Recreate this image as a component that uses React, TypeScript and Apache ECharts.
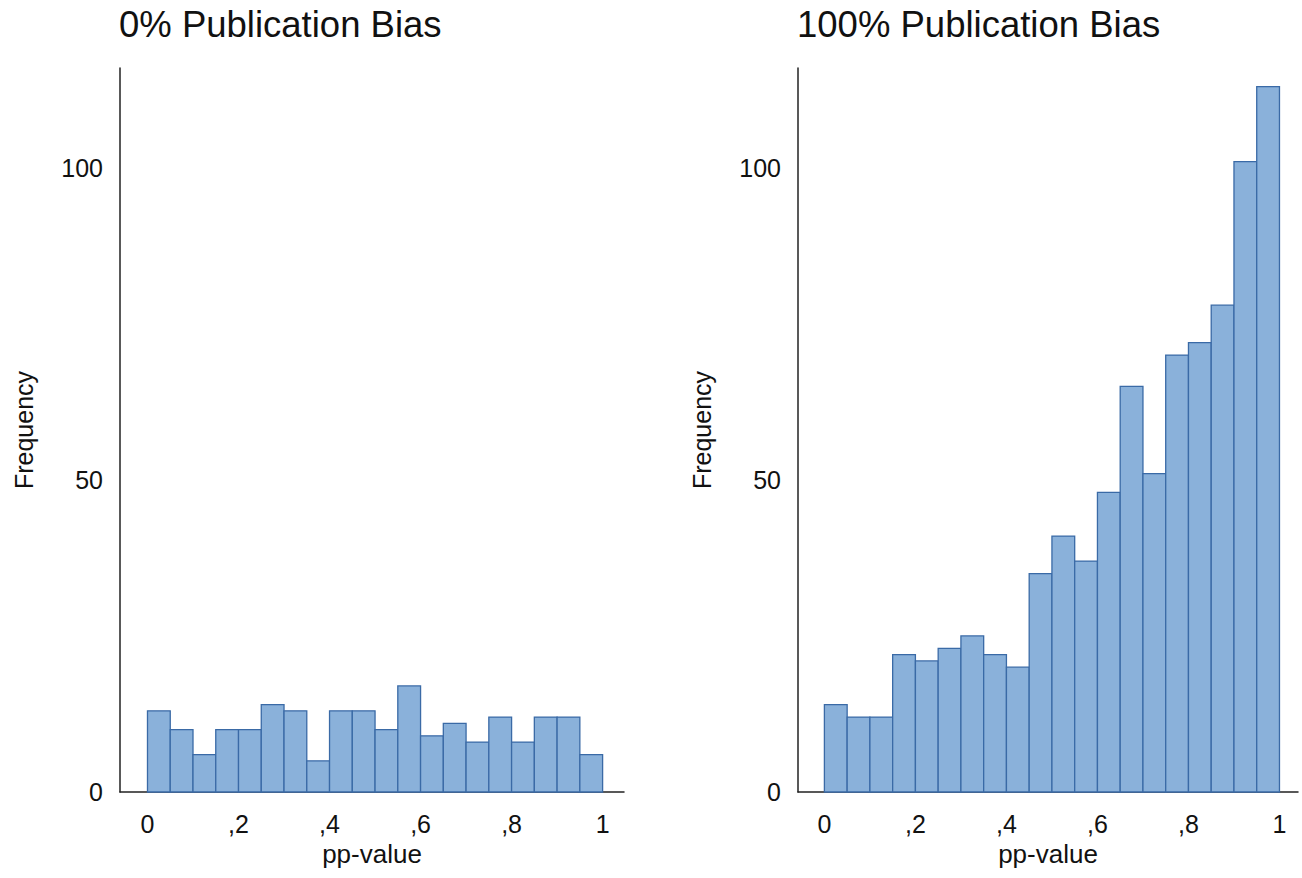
import React, { useEffect, useRef } from "react";
import * as echarts from "echarts";

const BIN_EDGES = [0, 0.05, 0.1, 0.15, 0.2, 0.25, 0.3, 0.35, 0.4, 0.45, 0.5, 0.55, 0.6, 0.65, 0.7, 0.75, 0.8, 0.85, 0.9, 0.95, 1];
const COUNTS_0 = [13, 10, 6, 10, 10, 14, 13, 5, 13, 13, 10, 17, 9, 11, 8, 12, 8, 12, 12, 6];
const COUNTS_100 = [14, 12, 12, 22, 21, 23, 25, 22, 20, 35, 41, 37, 48, 65, 51, 70, 72, 78, 101, 113];
const TITLES = ["0% Publication Bias", "100% Publication Bias"];
const X_TICKS = [0, 0.2, 0.4, 0.6, 0.8, 1];
const X_TICK_LABELS = ["0", ",2", ",4", ",6", ",8", "1"];
const Y_TICKS = [0, 50, 100];

const FONT = "Liberation Sans, Arial, Helvetica, sans-serif";
const FILL = "#8ab1da";
const EDGE = "#3a6aa6";

function toData(counts: number[]) {
  return counts.map((c, i) => [BIN_EDGES[i], BIN_EDGES[i + 1], c]);
}

export default function App() {
  const ref = useRef<HTMLDivElement>(null);
  useEffect(() => {
    document.body.style.margin = "0";
    const chart = echarts.init(ref.current!, null, { renderer: "svg" });
    const grids = [
      { left: 120, top: 68, width: 504, height: 724 },
      { left: 798, top: 68, width: 500, height: 724 },
    ];
    const xRanges = [
      [-0.0604, 1.047],
      [-0.058, 1.0407],
    ];
    const renderItem = (params: any, api: any) => {
      const x0 = api.value(0);
      const x1 = api.value(1);
      const c = api.value(2);
      const p0 = api.coord([x0, c]);
      const p1 = api.coord([x1, 0]);
      return {
        type: "rect",
        shape: { x: p0[0], y: p0[1], width: p1[0] - p0[0], height: p1[1] - p0[1] },
        style: { fill: FILL, stroke: EDGE, lineWidth: 1.3 },
      };
    };
    const option: any = {
      animation: false,
      backgroundColor: "#ffffff",
      title: TITLES.map((t, i) => ({
        text: t,
        left: grids[i].left - 1,
        top: 6,
        padding: 0,
        textStyle: { fontFamily: FONT, fontSize: 36.5, fontWeight: "normal", color: "#111" },
      })),
      grid: grids,
      xAxis: [0, 1].map((i) => ({
        type: "value",
        gridIndex: i,
        min: xRanges[i][0],
        max: xRanges[i][1],
        name: "pp-value",
        nameLocation: "middle",
        nameGap: 46,
        nameTextStyle: { fontFamily: FONT, fontSize: 26, color: "#111" },
        axisLine: { show: true, onZero: false, lineStyle: { color: "#222", width: 1.5 } },
        axisTick: { show: false },
        splitLine: { show: false },
        axisLabel: {
          customValues: X_TICKS,
          fontFamily: FONT,
          fontSize: 25,
          color: "#111",
          margin: 19,
          formatter: (v: number) => {
            const idx = X_TICKS.findIndex((t) => Math.abs(t - v) < 1e-6);
            return idx >= 0 ? X_TICK_LABELS[idx] : "";
          },
        },
      })),
      yAxis: [0, 1].map((i) => ({
        type: "value",
        gridIndex: i,
        min: 0,
        max: 116,
        name: "Frequency",
        nameLocation: "middle",
        nameRotate: 90,
        nameGap: 84,
        nameTextStyle: { fontFamily: FONT, fontSize: 25, color: "#111" },
        axisLine: { show: true, onZero: false, lineStyle: { color: "#222", width: 1.5 } },
        axisTick: { show: false },
        splitLine: { show: false },
        axisLabel: {
          customValues: Y_TICKS,
          fontFamily: FONT,
          fontSize: 25,
          color: "#111",
          margin: 17,
        },
      })),
      series: [COUNTS_0, COUNTS_100].map((counts, i) => ({
        type: "custom",
        xAxisIndex: i,
        yAxisIndex: i,
        renderItem,
        encode: { x: [0, 1], y: 2 },
        data: toData(counts),
      })),
    };
    chart.setOption(option);
    return () => chart.dispose();
  }, []);
  return <div ref={ref} style={{ width: 1302, height: 878 }} />;
}
